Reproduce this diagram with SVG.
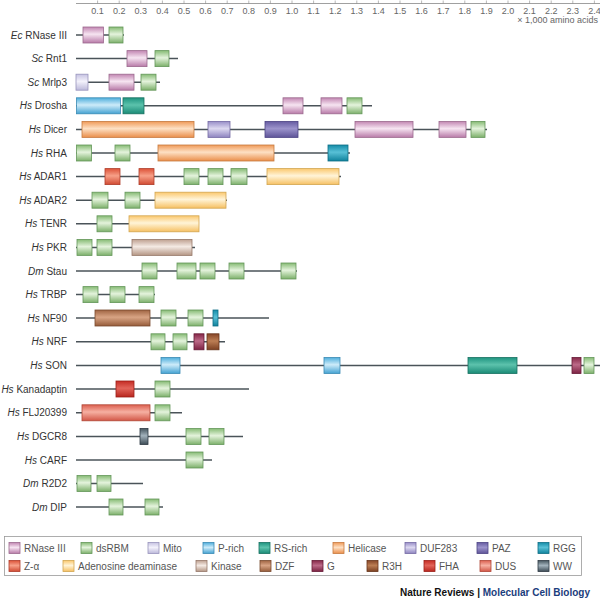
<svg xmlns="http://www.w3.org/2000/svg" width="600" height="607" viewBox="0 0 600 607">
<defs>
<linearGradient id="gRN" x1="0" y1="0" x2="0" y2="1"><stop offset="0" stop-color="#c286b2"/><stop offset="0.45" stop-color="#f6e4f1"/><stop offset="1" stop-color="#b87aa8"/></linearGradient>
<linearGradient id="gDS" x1="0" y1="0" x2="0" y2="1"><stop offset="0" stop-color="#86bb74"/><stop offset="0.45" stop-color="#e4f3dc"/><stop offset="1" stop-color="#7cb06a"/></linearGradient>
<linearGradient id="gMI" x1="0" y1="0" x2="0" y2="1"><stop offset="0" stop-color="#c6c2e2"/><stop offset="0.45" stop-color="#f3f2fb"/><stop offset="1" stop-color="#bcb8da"/></linearGradient>
<linearGradient id="gPR" x1="0" y1="0" x2="0" y2="1"><stop offset="0" stop-color="#4eaedc"/><stop offset="0.45" stop-color="#cdebf9"/><stop offset="1" stop-color="#44a2d2"/></linearGradient>
<linearGradient id="gRS" x1="0" y1="0" x2="0" y2="1"><stop offset="0" stop-color="#1f9480"/><stop offset="0.45" stop-color="#5cc2ac"/><stop offset="1" stop-color="#1a8a76"/></linearGradient>
<linearGradient id="gHE" x1="0" y1="0" x2="0" y2="1"><stop offset="0" stop-color="#f09a58"/><stop offset="0.45" stop-color="#fde0c4"/><stop offset="1" stop-color="#ea8e4a"/></linearGradient>
<linearGradient id="gDU" x1="0" y1="0" x2="0" y2="1"><stop offset="0" stop-color="#988ec8"/><stop offset="0.45" stop-color="#dcd8f0"/><stop offset="1" stop-color="#8e84c0"/></linearGradient>
<linearGradient id="gPA" x1="0" y1="0" x2="0" y2="1"><stop offset="0" stop-color="#665ca2"/><stop offset="0.45" stop-color="#9c94cc"/><stop offset="1" stop-color="#5e5498"/></linearGradient>
<linearGradient id="gRG" x1="0" y1="0" x2="0" y2="1"><stop offset="0" stop-color="#148ca8"/><stop offset="0.45" stop-color="#58c0d6"/><stop offset="1" stop-color="#10829c"/></linearGradient>
<linearGradient id="gZA" x1="0" y1="0" x2="0" y2="1"><stop offset="0" stop-color="#dc5238"/><stop offset="0.45" stop-color="#f7a088"/><stop offset="1" stop-color="#d04a32"/></linearGradient>
<linearGradient id="gAD" x1="0" y1="0" x2="0" y2="1"><stop offset="0" stop-color="#fbc86e"/><stop offset="0.45" stop-color="#fff4d8"/><stop offset="1" stop-color="#f6c062"/></linearGradient>
<linearGradient id="gKI" x1="0" y1="0" x2="0" y2="1"><stop offset="0" stop-color="#bea090"/><stop offset="0.45" stop-color="#f4eae4"/><stop offset="1" stop-color="#b49684"/></linearGradient>
<linearGradient id="gDZ" x1="0" y1="0" x2="0" y2="1"><stop offset="0" stop-color="#a06442"/><stop offset="0.45" stop-color="#d8a484"/><stop offset="1" stop-color="#965c3a"/></linearGradient>
<linearGradient id="gGG" x1="0" y1="0" x2="0" y2="1"><stop offset="0" stop-color="#862848"/><stop offset="0.45" stop-color="#bc6a88"/><stop offset="1" stop-color="#7c2242"/></linearGradient>
<linearGradient id="gR3" x1="0" y1="0" x2="0" y2="1"><stop offset="0" stop-color="#864628"/><stop offset="0.45" stop-color="#bc7e54"/><stop offset="1" stop-color="#7c4022"/></linearGradient>
<linearGradient id="gFH" x1="0" y1="0" x2="0" y2="1"><stop offset="0" stop-color="#c42c24"/><stop offset="0.45" stop-color="#e2645a"/><stop offset="1" stop-color="#b8261e"/></linearGradient>
<linearGradient id="gDS2" x1="0" y1="0" x2="0" y2="1"><stop offset="0" stop-color="#dc6050"/><stop offset="0.45" stop-color="#f6b0a2"/><stop offset="1" stop-color="#d25646"/></linearGradient>
<linearGradient id="gWW" x1="0" y1="0" x2="0" y2="1"><stop offset="0" stop-color="#46565f"/><stop offset="0.45" stop-color="#a2b2bc"/><stop offset="1" stop-color="#3e4c56"/></linearGradient>
</defs>
<style>
.bb{stroke:#4a5359;stroke-width:1.5;fill:none}
.lbl{font-family:"Liberation Sans",Arial,sans-serif;font-size:10px;fill:#333;text-anchor:end}
.ax{font-family:"Liberation Sans",Arial,sans-serif;font-size:9px;fill:#666;text-anchor:middle}
.lg{font-family:"Liberation Sans",Arial,sans-serif;font-size:10px;fill:#555}
rect{stroke-width:0.8}
.rn{fill:url(#gRN);stroke:#9c6a8e}
.ds{fill:url(#gDS);stroke:#64975a}
.mi{fill:url(#gMI);stroke:#9894bc}
.pr{fill:url(#gPR);stroke:#3a8ab4}
.rs{fill:url(#gRS);stroke:#177060}
.he{fill:url(#gHE);stroke:#c67a40}
.du{fill:url(#gDU);stroke:#746aa4}
.pa{fill:url(#gPA);stroke:#4c4484}
.rg{fill:url(#gRG);stroke:#0e6e86}
.za{fill:url(#gZA);stroke:#ae3c2a}
.ad{fill:url(#gAD);stroke:#d2a650}
.ki{fill:url(#gKI);stroke:#96786a}
.dz{fill:url(#gDZ);stroke:#784a2e}
.gg{fill:url(#gGG);stroke:#661a36}
.r3{fill:url(#gR3);stroke:#66341a}
.fh{fill:url(#gFH);stroke:#9c1e18}
.du2{fill:url(#gDS2);stroke:#b04636}
.ww{fill:url(#gWW);stroke:#2e3a44}
</style>
<rect width="600" height="607" fill="#ffffff" stroke="none"/>

<g id="axis">
<line x1="76" y1="3.5" x2="600" y2="3.5" stroke="#888" stroke-width="0.8"/>
<path d="M97.6 0.5V3.5M119.2 0.5V3.5M140.8 0.5V3.5M162.4 0.5V3.5M184 0.5V3.5M205.6 0.5V3.5M227.2 0.5V3.5M248.8 0.5V3.5M270.4 0.5V3.5M292 0.5V3.5M313.6 0.5V3.5M335.2 0.5V3.5M356.8 0.5V3.5M378.4 0.5V3.5M400 0.5V3.5M421.6 0.5V3.5M443.2 0.5V3.5M464.8 0.5V3.5M486.4 0.5V3.5M508 0.5V3.5M529.6 0.5V3.5M551.2 0.5V3.5M572.8 0.5V3.5M594.4 0.5V3.5" stroke="#888" stroke-width="0.6"/>
<text class="ax" y="14"><tspan x="97.6">0.1</tspan><tspan x="119.2">0.2</tspan><tspan x="140.8">0.3</tspan><tspan x="162.4">0.4</tspan><tspan x="184">0.5</tspan><tspan x="205.6">0.6</tspan><tspan x="227.2">0.7</tspan><tspan x="248.8">0.8</tspan><tspan x="270.4">0.9</tspan><tspan x="292">1.0</tspan><tspan x="313.6">1.1</tspan><tspan x="335.2">1.2</tspan><tspan x="356.8">1.3</tspan><tspan x="378.4">1.4</tspan><tspan x="400">1.5</tspan><tspan x="421.6">1.6</tspan><tspan x="443.2">1.7</tspan><tspan x="464.8">1.8</tspan><tspan x="486.4">1.9</tspan><tspan x="508">2.0</tspan><tspan x="529.6">2.1</tspan><tspan x="551.2">2.2</tspan><tspan x="572.8">2.3</tspan><tspan x="594.4">2.4</tspan></text>
<text class="ax" x="598" y="23" style="text-anchor:end">× 1,000 amino acids</text>
</g>

<g id="ec-rnase3" transform="translate(0,35)">
<text class="lbl" x="67" y="3.5"><tspan font-style="italic">Ec</tspan> RNase III</text>
<line class="bb" x1="76" y1="0" x2="124" y2="0"/>
<rect class="rn" x="83" y="-8" width="20.5" height="16"/>
<rect class="ds" x="109" y="-8" width="14" height="16"/>
</g>

<g id="sc-rnt1" transform="translate(0,58.6)">
<text class="lbl" x="67" y="3.5"><tspan font-style="italic">Sc</tspan> Rnt1</text>
<line class="bb" x1="76" y1="0" x2="178" y2="0"/>
<rect class="rn" x="127" y="-8" width="20" height="16"/>
<rect class="ds" x="155" y="-8" width="14" height="16"/>
</g>

<g id="sc-mrlp3" transform="translate(0,82.2)">
<text class="lbl" x="67" y="3.5"><tspan font-style="italic">Sc</tspan> Mrlp3</text>
<line class="bb" x1="76" y1="0" x2="160" y2="0"/>
<rect class="mi" x="76" y="-8" width="12" height="16"/>
<rect class="rn" x="109" y="-8" width="25" height="16"/>
<rect class="ds" x="141" y="-8" width="15" height="16"/>
</g>

<g id="hs-drosha" transform="translate(0,105.8)">
<text class="lbl" x="67" y="3.5"><tspan font-style="italic">Hs</tspan> Drosha</text>
<line class="bb" x1="76" y1="0" x2="372" y2="0"/>
<rect class="pr" x="76.5" y="-8" width="44" height="16"/>
<rect class="rs" x="123" y="-8" width="21" height="16"/>
<rect class="rn" x="283" y="-8" width="20" height="16"/>
<rect class="rn" x="321" y="-8" width="21" height="16"/>
<rect class="ds" x="347" y="-8" width="15" height="16"/>
</g>

<g id="hs-dicer" transform="translate(0,129.4)">
<text class="lbl" x="67" y="3.5"><tspan font-style="italic">Hs</tspan> Dicer</text>
<line class="bb" x1="76" y1="0" x2="487" y2="0"/>
<rect class="he" x="82" y="-8" width="112" height="16"/>
<rect class="du" x="208" y="-8" width="22" height="16"/>
<rect class="pa" x="265" y="-8" width="33" height="16"/>
<rect class="rn" x="355" y="-8" width="58" height="16"/>
<rect class="rn" x="439" y="-8" width="27" height="16"/>
<rect class="ds" x="471" y="-8" width="14" height="16"/>
</g>

<g id="hs-rha" transform="translate(0,153)">
<text class="lbl" x="67" y="3.5"><tspan font-style="italic">Hs</tspan> RHA</text>
<line class="bb" x1="76" y1="0" x2="350" y2="0"/>
<rect class="ds" x="76.5" y="-8" width="15" height="16"/>
<rect class="ds" x="115" y="-8" width="15" height="16"/>
<rect class="he" x="158" y="-8" width="116" height="16"/>
<rect class="rg" x="328" y="-8" width="20" height="16"/>
</g>

<g id="hs-adar1" transform="translate(0,176.6)">
<text class="lbl" x="67" y="3.5"><tspan font-style="italic">Hs</tspan> ADAR1</text>
<line class="bb" x1="76" y1="0" x2="341" y2="0"/>
<rect class="za" x="105" y="-8" width="15" height="16"/>
<rect class="za" x="139" y="-8" width="15" height="16"/>
<rect class="ds" x="184" y="-8" width="15" height="16"/>
<rect class="ds" x="208" y="-8" width="15" height="16"/>
<rect class="ds" x="231" y="-8" width="16" height="16"/>
<rect class="ad" x="267" y="-8" width="72" height="16"/>
</g>

<g id="hs-adar2" transform="translate(0,200.2)">
<text class="lbl" x="67" y="3.5"><tspan font-style="italic">Hs</tspan> ADAR2</text>
<line class="bb" x1="76" y1="0" x2="227" y2="0"/>
<rect class="ds" x="92" y="-8" width="16" height="16"/>
<rect class="ds" x="125" y="-8" width="15" height="16"/>
<rect class="ad" x="155" y="-8" width="71" height="16"/>
</g>

<g id="hs-tenr" transform="translate(0,223.8)">
<text class="lbl" x="67" y="3.5"><tspan font-style="italic">Hs</tspan> TENR</text>
<line class="bb" x1="76" y1="0" x2="199" y2="0"/>
<rect class="ds" x="97" y="-8" width="15" height="16"/>
<rect class="ad" x="129" y="-8" width="70" height="16"/>
</g>

<g id="hs-pkr" transform="translate(0,247.4)">
<text class="lbl" x="67" y="3.5"><tspan font-style="italic">Hs</tspan> PKR</text>
<line class="bb" x1="76" y1="0" x2="195" y2="0"/>
<rect class="ds" x="77" y="-8" width="15" height="16"/>
<rect class="ds" x="97" y="-8" width="15" height="16"/>
<rect class="ki" x="132" y="-8" width="60" height="16"/>
</g>

<g id="dm-stau" transform="translate(0,271)">
<text class="lbl" x="67" y="3.5"><tspan font-style="italic">Dm</tspan> Stau</text>
<line class="bb" x1="76" y1="0" x2="297" y2="0"/>
<rect class="ds" x="142" y="-8" width="15" height="16"/>
<rect class="ds" x="177" y="-8" width="19" height="16"/>
<rect class="ds" x="200" y="-8" width="15" height="16"/>
<rect class="ds" x="229" y="-8" width="15" height="16"/>
<rect class="ds" x="281" y="-8" width="15" height="16"/>
</g>

<g id="hs-trbp" transform="translate(0,294.6)">
<text class="lbl" x="67" y="3.5"><tspan font-style="italic">Hs</tspan> TRBP</text>
<line class="bb" x1="76" y1="0" x2="155" y2="0"/>
<rect class="ds" x="83" y="-8" width="15" height="16"/>
<rect class="ds" x="110" y="-8" width="15" height="16"/>
<rect class="ds" x="139" y="-8" width="15" height="16"/>
</g>

<g id="hs-nf90" transform="translate(0,318)">
<text class="lbl" x="67" y="3.5"><tspan font-style="italic">Hs</tspan> NF90</text>
<line class="bb" x1="76" y1="0" x2="269" y2="0"/>
<rect class="dz" x="95" y="-8" width="55" height="16"/>
<rect class="ds" x="161" y="-8" width="15" height="16"/>
<rect class="ds" x="188" y="-8" width="15" height="16"/>
<rect class="rg" x="213" y="-8" width="5" height="16"/>
</g>

<g id="hs-nrf" transform="translate(0,341.8)">
<text class="lbl" x="67" y="3.5"><tspan font-style="italic">Hs</tspan> NRF</text>
<line class="bb" x1="76" y1="0" x2="225" y2="0"/>
<rect class="ds" x="151" y="-8" width="14" height="16"/>
<rect class="ds" x="173" y="-8" width="14" height="16"/>
<rect class="gg" x="194" y="-8" width="10" height="16"/>
<rect class="r3" x="207" y="-8" width="12" height="16"/>
</g>

<g id="hs-son" transform="translate(0,365.5)">
<text class="lbl" x="67" y="3.5"><tspan font-style="italic">Hs</tspan> SON</text>
<line class="bb" x1="76" y1="0" x2="600" y2="0"/>
<rect class="pr" x="161" y="-8" width="19" height="16"/>
<rect class="pr" x="324" y="-8" width="16" height="16"/>
<rect class="rs" x="468" y="-8" width="49" height="16"/>
<rect class="gg" x="572" y="-8" width="9" height="16"/>
<rect class="ds" x="584" y="-8" width="10" height="16"/>
</g>

<g id="hs-kanadaptin" transform="translate(0,389)">
<text class="lbl" x="67" y="3.5"><tspan font-style="italic">Hs</tspan> Kanadaptin</text>
<line class="bb" x1="76" y1="0" x2="249" y2="0"/>
<rect class="fh" x="116" y="-8" width="18" height="16"/>
<rect class="ds" x="155" y="-8" width="15" height="16"/>
</g>

<g id="hs-flj20399" transform="translate(0,412.8)">
<text class="lbl" x="67" y="3.5"><tspan font-style="italic">Hs</tspan> FLJ20399</text>
<line class="bb" x1="76" y1="0" x2="182" y2="0"/>
<rect class="du2" x="82" y="-8" width="68" height="16"/>
<rect class="ds" x="155" y="-8" width="15" height="16"/>
</g>

<g id="hs-dgcr8" transform="translate(0,436.5)">
<text class="lbl" x="67" y="3.5"><tspan font-style="italic">Hs</tspan> DGCR8</text>
<line class="bb" x1="76" y1="0" x2="243" y2="0"/>
<rect class="ww" x="140" y="-8" width="8" height="16"/>
<rect class="ds" x="186" y="-8" width="15" height="16"/>
<rect class="ds" x="209" y="-8" width="15" height="16"/>
</g>

<g id="hs-carf" transform="translate(0,460)">
<text class="lbl" x="67" y="3.5"><tspan font-style="italic">Hs</tspan> CARF</text>
<line class="bb" x1="76" y1="0" x2="212" y2="0"/>
<rect class="ds" x="186" y="-8" width="17" height="16"/>
</g>

<g id="dm-r2d2" transform="translate(0,483.5)">
<text class="lbl" x="67" y="3.5"><tspan font-style="italic">Dm</tspan> R2D2</text>
<line class="bb" x1="76" y1="0" x2="143" y2="0"/>
<rect class="ds" x="77" y="-8" width="14" height="16"/>
<rect class="ds" x="97" y="-8" width="14" height="16"/>
</g>

<g id="dm-dip" transform="translate(0,507)">
<text class="lbl" x="67" y="3.5"><tspan font-style="italic">Dm</tspan> DIP</text>
<line class="bb" x1="76" y1="0" x2="163" y2="0"/>
<rect class="ds" x="109" y="-8" width="14" height="16"/>
<rect class="ds" x="145" y="-8" width="14" height="16"/>
</g>

<g id="legend">
<rect x="4.5" y="536.5" width="577" height="39" fill="#fff" stroke="#999" stroke-width="1"/>
<g transform="translate(0,548)">
<rect class="rn" x="9" y="-5.5" width="11" height="11"/><text class="lg" x="24" y="3.5">RNase III</text>
<rect class="ds" x="81" y="-5.5" width="11" height="11"/><text class="lg" x="96" y="3.5">dsRBM</text>
<rect class="mi" x="148" y="-5.5" width="11" height="11"/><text class="lg" x="163" y="3.5">Mito</text>
<rect class="pr" x="203" y="-5.5" width="11" height="11"/><text class="lg" x="218" y="3.5">P-rich</text>
<rect class="rs" x="259" y="-5.5" width="11" height="11"/><text class="lg" x="274" y="3.5">RS-rich</text>
<rect class="he" x="333" y="-5.5" width="11" height="11"/><text class="lg" x="348" y="3.5">Helicase</text>
<rect class="du" x="405" y="-5.5" width="11" height="11"/><text class="lg" x="420" y="3.5">DUF283</text>
<rect class="pa" x="477" y="-5.5" width="11" height="11"/><text class="lg" x="492" y="3.5">PAZ</text>
<rect class="rg" x="538" y="-5.5" width="11" height="11"/><text class="lg" x="553" y="3.5">RGG</text>
</g>
<g transform="translate(0,566)">
<rect class="za" x="9" y="-5.5" width="11" height="11"/><text class="lg" x="24" y="3.5">Z-α</text>
<rect class="ad" x="63" y="-5.5" width="11" height="11"/><text class="lg" x="78" y="3.5">Adenosine deaminase</text>
<rect class="ki" x="196" y="-5.5" width="11" height="11"/><text class="lg" x="211" y="3.5">Kinase</text>
<rect class="dz" x="260" y="-5.5" width="11" height="11"/><text class="lg" x="275" y="3.5">DZF</text>
<rect class="gg" x="312" y="-5.5" width="11" height="11"/><text class="lg" x="327" y="3.5">G</text>
<rect class="r3" x="367" y="-5.5" width="11" height="11"/><text class="lg" x="382" y="3.5">R3H</text>
<rect class="fh" x="424" y="-5.5" width="11" height="11"/><text class="lg" x="439" y="3.5">FHA</text>
<rect class="du2" x="480" y="-5.5" width="11" height="11"/><text class="lg" x="495" y="3.5">DUS</text>
<rect class="ww" x="538" y="-5.5" width="11" height="11"/><text class="lg" x="553" y="3.5">WW</text>
</g>
</g>

<text x="590" y="596" style="font-family:'Liberation Sans',Arial,sans-serif;font-size:10px;font-weight:bold;text-anchor:end"><tspan fill="#111">Nature Reviews | </tspan><tspan fill="#1b3d7c">Molecular Cell Biology</tspan></text>
</svg>
